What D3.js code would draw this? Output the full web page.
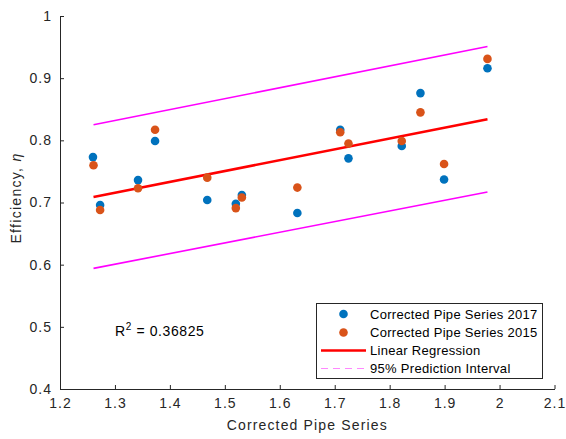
<!DOCTYPE html>
<html>
<head>
<meta charset="utf-8">
<script src="https://cdn.jsdelivr.net/npm/d3@7"></script>
<style>
  html, body { margin: 0; padding: 0; background: #fff; }
  svg { display: block; font-family: "Liberation Sans", Arial, sans-serif; }
</style>
</head>
<body>
<svg id="chart" width="566" height="439"></svg>
<script>
// Corrected pipe series (x) and efficiency (y) for two campaigns
const x2017 = [1.260, 1.273, 1.342, 1.373, 1.468, 1.520, 1.531, 1.632, 1.710, 1.725, 1.822, 1.856, 1.899, 1.978];
const eff2017 = [0.773, 0.696, 0.736, 0.799, 0.704, 0.698, 0.712, 0.683, 0.817, 0.771, 0.791, 0.876, 0.737, 0.916];
const x2015 = [1.261, 1.273, 1.342, 1.373, 1.468, 1.520, 1.531, 1.632, 1.710, 1.725, 1.822, 1.856, 1.899, 1.978];
const eff2015 = [0.760, 0.688, 0.723, 0.817, 0.740, 0.691, 0.708, 0.724, 0.813, 0.795, 0.799, 0.845, 0.762, 0.931];

// Fitted regression and 95% prediction bounds
const fitX = [1.261, 1.978];
const fitY = [0.709, 0.834];
const piUpperY = [0.825, 0.951];
const piLowerY = [0.594, 0.717];

const xTicks = [1.2, 1.3, 1.4, 1.5, 1.6, 1.7, 1.8, 1.9, 2, 2.1];
const yTicks = [0.4, 0.5, 0.6, 0.7, 0.8, 0.9, 1];
const legendLabels = ["Corrected Pipe Series 2017", "Corrected Pipe Series 2015", "Linear Regression", "95% Prediction Interval"];
const rSquared = "0.36825";

const svg = d3.select("#chart");
const m = { left: 60, right: 554.5, top: 16, bottom: 389 };
const x = d3.scaleLinear().domain([1.2, 2.1]).range([m.left, m.right]);
const y = d3.scaleLinear().domain([0.4, 1]).range([m.bottom, m.top]);

const axisColor = "#262626";

// Axes with inward ticks
const gx = svg.append("g").attr("transform", `translate(0,${m.bottom})`)
  .call(d3.axisBottom(x).tickValues(xTicks).tickSizeInner(-4).tickSizeOuter(0).tickPadding(9).tickFormat(d3.format("")));
const gy = svg.append("g").attr("transform", `translate(${m.left},0)`)
  .call(d3.axisLeft(y).tickValues(yTicks).tickSizeInner(-4).tickSizeOuter(0).tickPadding(8).tickFormat(d3.format("")));
[gx, gy].forEach(g => {
  g.select(".domain").attr("stroke", axisColor).attr("stroke-width", 1);
  g.selectAll(".tick line").attr("stroke", axisColor);
  g.selectAll(".tick text").attr("fill", axisColor).style("font-size", "14px").style("letter-spacing", "1px");
});
gy.selectAll(".tick text").attr("dy", "0.32em");

// Axis titles
svg.append("text").attr("x", (m.left + m.right) / 2).attr("y", 430)
  .attr("text-anchor", "middle").attr("fill", axisColor).style("font-size", "14px").style("letter-spacing", "1.15px")
  .text("Corrected Pipe Series");
const yl = svg.append("text").attr("transform", `translate(21,198) rotate(-90)`)
  .attr("text-anchor", "middle").attr("fill", axisColor).style("font-size", "14px").style("letter-spacing", "1.3px");
yl.append("tspan").text("Efficiency, ");
yl.append("tspan").style("font-style", "italic").text("η");

const line = d3.line().x(d => x(d[0])).y(d => y(d[1]));

// Prediction interval bounds
[piUpperY, piLowerY].forEach(ys => {
  svg.append("path").datum(fitX.map((v, i) => [v, ys[i]]))
    .attr("d", line).attr("fill", "none").attr("stroke", "#FF00FF").attr("stroke-width", 1.6);
});

// Regression line
svg.append("path").datum(fitX.map((v, i) => [v, fitY[i]]))
  .attr("d", line).attr("fill", "none").attr("stroke", "#FF0000").attr("stroke-width", 2.5);

// Data points
svg.append("g").selectAll("circle").data(x2017.map((v, i) => [v, eff2017[i]])).join("circle")
  .attr("cx", d => x(d[0])).attr("cy", d => y(d[1])).attr("r", 4.3).attr("fill", "#0072BD");
svg.append("g").selectAll("circle").data(x2015.map((v, i) => [v, eff2015[i]])).join("circle")
  .attr("cx", d => x(d[0])).attr("cy", d => y(d[1])).attr("r", 4.3).attr("fill", "#D95319");

// R-squared annotation
const rt = svg.append("text").attr("x", 115).attr("y", 336).attr("fill", "#000").style("font-size", "14px").style("letter-spacing", "0.6px");
rt.append("tspan").text("R");
rt.append("tspan").attr("dy", -6).style("font-size", "10px").text("2");
rt.append("tspan").attr("dy", 6).text(" = " + rSquared);

// Legend
const lg = svg.append("g");
lg.append("rect").attr("x", 316.5).attr("y", 303.5).attr("width", 226).attr("height", 75)
  .attr("fill", "#fff").attr("stroke", "#262626").attr("stroke-width", 1);
const rowY = [314, 332.5, 350.5, 368.5];
lg.append("circle").attr("cx", 343.5).attr("cy", rowY[0]).attr("r", 4.3).attr("fill", "#0072BD");
lg.append("circle").attr("cx", 343.5).attr("cy", rowY[1]).attr("r", 4.3).attr("fill", "#D95319");
lg.append("line").attr("x1", 321).attr("x2", 366).attr("y1", rowY[2]).attr("y2", rowY[2])
  .attr("stroke", "#FF0000").attr("stroke-width", 2.5);
lg.append("line").attr("x1", 321).attr("x2", 366).attr("y1", rowY[3]).attr("y2", rowY[3])
  .attr("stroke", "#FF88FF").attr("stroke-width", 1.2).attr("stroke-dasharray", "7,5");
lg.selectAll("text.lab").data(legendLabels).join("text").attr("class", "lab")
  .attr("x", 370).attr("y", (d, i) => rowY[i]).attr("dy", "0.35em")
  .attr("fill", "#000").style("font-size", "13px").style("letter-spacing", "0.3px").text(d => d);
</script>
</body>
</html>
